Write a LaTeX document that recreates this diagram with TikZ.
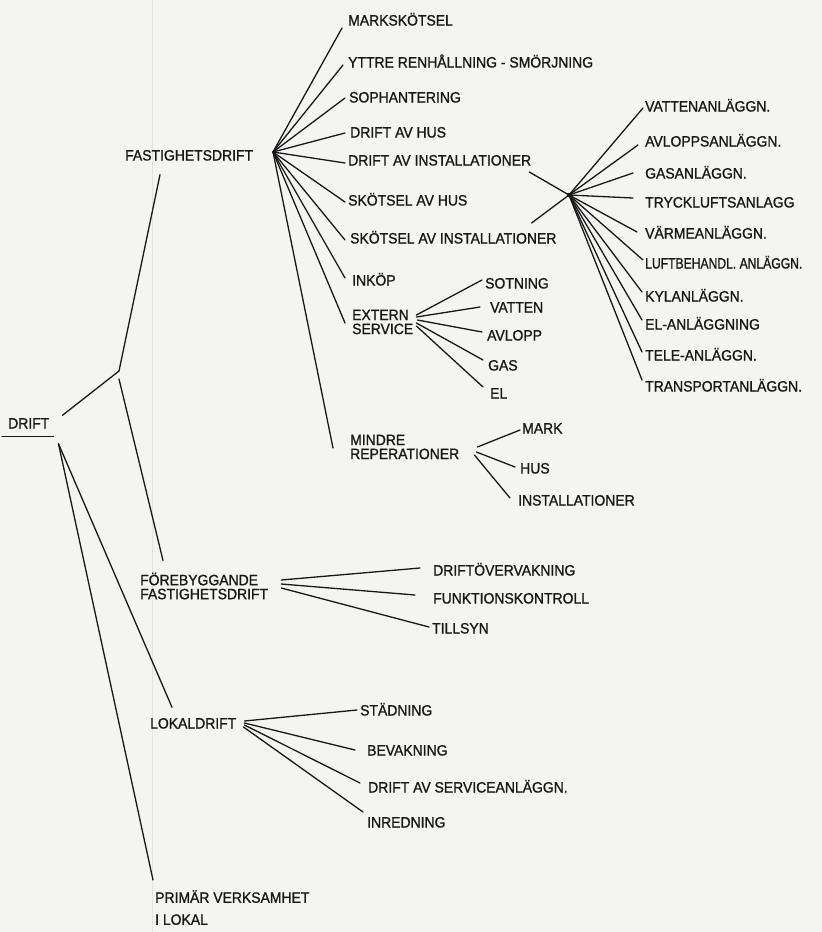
\documentclass[tikz,border=0pt]{standalone}
\usepackage{fontspec}
\setmainfont{Liberation Sans}[FakeStretch=0.93,FakeBold=1.1]
\definecolor{paper}{RGB}{244,244,242}
\definecolor{ink}{RGB}{24,24,24}
\definecolor{seam}{RGB}{226,226,224}
\begin{document}
\begin{tikzpicture}[x=1pt,y=-1pt,
  lbl/.style={anchor=west,inner xsep=3pt,inner ysep=1pt,text=ink,
    font=\fontsize{15}{14}\selectfont,text height=11pt,text depth=0pt},
  lbltwo/.style={anchor=west,inner xsep=3pt,inner ysep=1pt,text=ink,
    font=\fontsize{15}{14}\selectfont,align=left},
  link/.style={draw=ink,line width=1.3pt,line cap=round}]

% paper
\fill[paper] (0,0) rectangle (822,932);
\useasboundingbox (0,0) rectangle (822,932);
\draw[seam,line width=1pt] (152,0) -- (152,932);

% ---------- labels ----------
\node[lbl] (drift) at (5,423) {DRIFT};
\node[lbl] (fast) at (122,155) {FASTIGHETSDRIFT};

\node[lbl] (mark)   at (345,20)  {MARKSKÖTSEL};
\node[lbl] (yttre)  at (345,62)  {YTTRE RENHÅLLNING - SMÖRJNING};
\node[lbl] (soph)   at (346,97)  {SOPHANTERING};
\node[lbl] (dah)    at (347,132) {DRIFT AV HUS};
\node[lbl] (dai)    at (345,160) {DRIFT AV INSTALLATIONER};
\node[lbl] (sah)    at (345,200) {SKÖTSEL AV HUS};
\node[lbl] (sai)    at (347,238) {SKÖTSEL AV INSTALLATIONER};
\node[lbl] (inkop)  at (349,280) {INKÖP};
\node[lbltwo] (extern) at (349,322) {EXTERN\\SERVICE};
\node[lbltwo] (mindre) at (347,447) {MINDRE\\REPERATIONER};

\node[lbl] (sotn)   at (482,283) {SOTNING};
\node[lbl] (vatt)   at (487,307) {VATTEN};
\node[lbl] (avl)    at (484,335) {AVLOPP};
\node[lbl] (gas)    at (485,365) {GAS};
\node[lbl] (el)     at (487,393) {EL};

\node[lbl] (mmark)  at (519,428) {MARK};
\node[lbl] (mhus)   at (517,468) {HUS};
\node[lbl] (minst)  at (515,500) {INSTALLATIONER};

\node[lbl] (rvat)   at (642,106) {VATTENANLÄGGN.};
\node[lbl] (ravl)   at (642,141) {AVLOPPSANLÄGGN.};
\node[lbl] (rgas)   at (642,173) {GASANLÄGGN.};
\node[lbl] (rtry)   at (642,202) {TRYCKLUFTSANLAGG};
\node[lbl] (rvar)   at (642,233) {VÄRMEANLÄGGN.};
\node[lbl] (rluf)   at (642,263) {\scalebox{0.87}[1]{LUFTBEHANDL. ANLÄGGN.}};
\node[lbl] (rkyl)   at (642,296) {KYLANLÄGGN.};
\node[lbl] (rel)    at (642,324) {EL-ANLÄGGNING};
\node[lbl] (rtel)   at (642,355) {TELE-ANLÄGGN.};
\node[lbl] (rtra)   at (642,386) {TRANSPORTANLÄGGN.};

\node[lbltwo] (foreb) at (137,586) {FÖREBYGGANDE\\FASTIGHETSDRIFT};
\node[lbl] (drov)   at (430,570) {DRIFTÖVERVAKNING};
\node[lbl] (funk)   at (430,598) {FUNKTIONSKONTROLL};
\node[lbl] (tills)  at (429,628) {TILLSYN};

\node[lbl] (lokal)  at (147,723) {LOKALDRIFT};
\node[lbl] (stad)   at (357,710) {STÄDNING};
\node[lbl] (bevak)  at (364,750) {BEVAKNING};
\node[lbl] (dserv)  at (365,787) {DRIFT AV SERVICEANLÄGGN.};
\node[lbl] (inred)  at (364,822) {INREDNING};

\node[lbltwo,anchor=north west] (prim) at (152,889) {PRIMÄR VERKSAMHET\\[8pt]I LOKAL};

% ---------- hubs ----------
\coordinate (J) at (119,371);
\coordinate (F) at (273,152);
\coordinate (R) at (569,195);

% ---------- connectors ----------
% root, with its underline
\draw[link] ([shift={(-3,7)}]drift.south west) -- ([shift={(1,7)}]drift.south east);
\draw[link] ([shift={(10,-1)}]drift.north east) -- (J);
\draw[link] (J) -- ([shift={(38,13)}]fast.south west);
\draw[link] ([shift={(0,8)}]J) -- ([shift={(26,-11)}]foreb.north west);
\draw[link] ([shift={(6,14)}]drift.south east) -- ([shift={(25,-9)}]lokal.north west);
\draw[link] ([shift={(6,14)}]drift.south east) -- ([shift={(1,-9)}]prim.north west);

% fastighetsdrift fan
\draw[link] (F) -- ([shift={(-3,8)}]mark.west);
\draw[link] (F) -- ([shift={(-2,3)}]yttre.west);
\draw[link] (F) -- ([shift={(-1,1)}]soph.west);
\draw[link] (F) -- ([shift={(-2,1)}]dah.west);
\draw[link] (F) -- ([shift={(0,3)}]dai.west);
\draw[link] (F) -- ([shift={(0,2)}]sah.west);
\draw[link] (F) -- ([shift={(-2,2)}]sai.west);
\draw[link] (F) -- ([shift={(-4,-2)}]inkop.west);
\draw[link] (F) -- ([shift={(-4,1)}]extern.west);
\draw[link] (F) -- ([shift={(-14,1)}]mindre.west);

% extern service fan
\draw[link] ([shift={(0,-7)}]extern.east) -- ([shift={(0,-3)}]sotn.west);
\draw[link] ([shift={(0,-5)}]extern.east) -- ([shift={(-7,0)}]vatt.west);
\draw[link] ([shift={(1,-2)}]extern.east) -- ([shift={(-2,-3)}]avl.west);
\draw[link] ([shift={(0,1)}]extern.east) -- ([shift={(-2,-5)}]gas.west);
\draw[link] ([shift={(0,4)}]extern.east) -- ([shift={(-4,-6)}]el.west);

% mindre reparationer fan
\draw[link] ([shift={(15,0)}]mindre.east) -- ([shift={(1,2)}]mmark.west);
\draw[link] ([shift={(14,5)}]mindre.east) -- ([shift={(-2,-1)}]mhus.west);
\draw[link] ([shift={(12,8)}]mindre.east) -- ([shift={(-5,-2)}]minst.west);

% installations fan
\draw[link] ([shift={(-5,12)}]dai.east) -- (R);
\draw[link] ([shift={(-28,-15)}]sai.east) -- (R);
\fill[ink] (R) circle (2.2pt);
\draw[link] (R) -- ([shift={(1,2)}]rvat.west);
\draw[link] (R) -- ([shift={(-4,4)}]ravl.west);
\draw[link] (R) -- ([shift={(-9,0)}]rgas.west);
\draw[link] (R) -- ([shift={(-9,-4)}]rtry.west);
\draw[link] (R) -- ([shift={(-5,-1)}]rvar.west);
\draw[link] (R) -- ([shift={(1,-3)}]rluf.west);
\draw[link] (R) -- ([shift={(0,-4)}]rkyl.west);
\draw[link] (R) -- ([shift={(0,-4)}]rel.west);
\draw[link] (R) -- ([shift={(0,-3)}]rtel.west);
\draw[link] (R) -- ([shift={(0,-6)}]rtra.west);

% förebyggande fan
\draw[link] ([shift={(10,-6)}]foreb.east) -- ([shift={(-10,-2)}]drov.west);
\draw[link] ([shift={(10,-2)}]foreb.east) -- ([shift={(-15,-3)}]funk.west);
\draw[link] ([shift={(10,2)}]foreb.east) -- ([shift={(0,-1)}]tills.west);

% lokaldrift fan
\draw[link] ([shift={(5,-2)}]lokal.east) -- (stad.west);
\draw[link] ([shift={(5,0)}]lokal.east) -- ([shift={(-9,0)}]bevak.west);
\draw[link] ([shift={(5,2)}]lokal.east) -- ([shift={(-5,-4)}]dserv.west);
\draw[link] ([shift={(4,4)}]lokal.east) -- ([shift={(-1,-10)}]inred.west);
\end{tikzpicture}
\end{document}
